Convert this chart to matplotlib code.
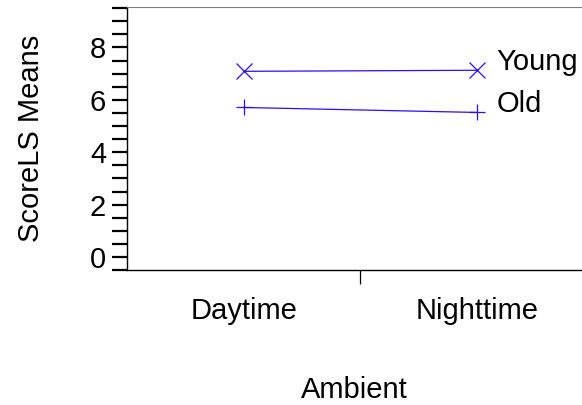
import numpy as np
import matplotlib.pyplot as plt
from matplotlib.ticker import MultipleLocator

# Means of ScoreLS by ambient light and age group
ambient = ["Daytime", "Nighttime"]
young = [7.09, 7.13]
old = [5.71, 5.52]

plt.rcParams['font.family'] = ['Liberation Sans', 'DejaVu Sans']
line_col = '#2a10f0'

fig = plt.figure(figsize=(5.82, 4.05), dpi=100)
ax = fig.add_axes([0.218, 0.333, 0.782, 0.65])

x = np.arange(len(ambient))
ax.plot(x, young, color=line_col, lw=0.9, marker='x', ms=12, mew=0.9)
ax.plot(x, old, color=line_col, lw=0.9, marker='+', ms=12, mew=0.9)

# series names next to the last point
for vals, name in [(young, "Young"), (old, "Old")]:
    ax.annotate(name, (x[-1], vals[-1]), xytext=(14, 6), textcoords='offset points',
                va='center', ha='left', fontsize=21)

ax.set_xlim(-0.5, 1.45)
ax.set_ylim(-0.5, 9.55)

ax.yaxis.set_major_locator(MultipleLocator(2))
ax.yaxis.set_minor_locator(MultipleLocator(0.5))
ax.tick_params(axis='y', which='both', direction='out', length=11, width=1.6, labelsize=21, pad=4)

ax.set_xticks(x, ambient)
ax.set_xticks([0.5], minor=True)
ax.tick_params(axis='x', which='major', length=0, labelsize=21, pad=19)
ax.tick_params(axis='x', which='minor', direction='out', length=10, width=0.9)

ax.spines['right'].set_visible(False)
ax.spines['top'].set_color('#808080')
for s in ['left', 'bottom']:
    ax.spines[s].set_linewidth(1.0)

ax.set_ylabel("ScoreLS Means", fontsize=21, labelpad=32)
ax.set_xlabel("Ambient", fontsize=21, labelpad=37)

fig.savefig("out.png", dpi=100)
